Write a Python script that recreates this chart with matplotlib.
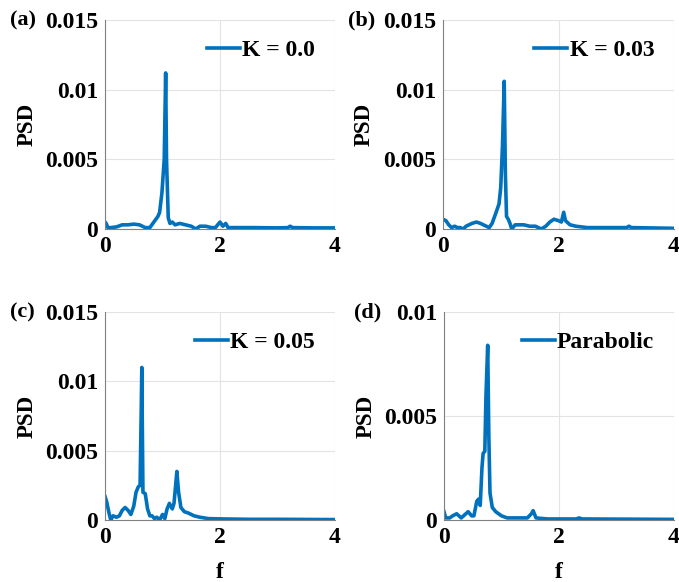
import matplotlib
matplotlib.use("Agg")
from matplotlib import pyplot as plt

plt.rcParams['font.family'] = ['Liberation Serif', 'DejaVu Serif']
plt.rcParams['font.weight'] = 'bold'

# panel (a) K = 0.0
f_a = [0, 0.02, 0.05, 0.1, 0.2, 0.3, 0.4, 0.5, 0.6, 0.7, 0.78, 0.85, 0.92, 0.95,
       0.99, 1.03, 1.055, 1.07, 1.1, 1.13, 1.17, 1.22, 1.3, 1.4, 1.5, 1.58, 1.65,
       1.75, 1.85, 1.92, 2.0, 2.05, 2.1, 2.14, 2.3, 2.6, 3.0, 3.18, 3.22, 3.26, 3.6, 4.0]
psd_a = [0.0005, 0.0004, 0.0001, 0.0001, 0.00015, 0.0003, 0.0003, 0.00035, 0.0003,
         0.0001, 0.0001, 0.0005, 0.0009, 0.0012, 0.0026, 0.005, 0.0112, 0.005, 0.0008,
         0.0004, 0.0005, 0.0003, 0.0004, 0.0003, 0.0002, 0.0, 0.0002, 0.0002, 0.0001,
         0.0001, 0.0005, 0.0002, 0.0004, 0.0001, 0.0001, 0.0001, 0.00008, 0.0001,
         0.0002, 0.0001, 0.00008, 0.00008]

# panel (b) K = 0.03
f_b = [0, 0.05, 0.1, 0.15, 0.2, 0.25, 0.3, 0.35, 0.4, 0.5, 0.58, 0.65, 0.75, 0.8,
       0.85, 0.92, 0.97, 1.0, 1.03, 1.06, 1.08, 1.1, 1.13, 1.16, 1.19, 1.25, 1.3,
       1.4, 1.5, 1.6, 1.7, 1.78, 1.85, 1.92, 2.0, 2.05, 2.09, 2.12, 2.2, 2.3, 2.5,
       3.0, 3.18, 3.22, 3.26, 4.0]
psd_b = [0.0007, 0.0006, 0.0003, 0.0001, 0.0002, 0.0001, 0.0001, 0.0, 0.0002,
         0.0004, 0.0005, 0.0004, 0.0002, 0.0001, 0.0004, 0.0012, 0.0018, 0.003,
         0.006, 0.0106, 0.004, 0.0009, 0.0007, 0.0004, 0.0, 0.0003, 0.0003, 0.0003,
         0.0002, 0.0002, 0.0, 0.0002, 0.0005, 0.0007, 0.0006, 0.0005, 0.0012, 0.0006,
         0.0003, 0.0002, 0.0001, 0.0001, 0.0001, 0.0002, 0.0001, 0.00005]

# panel (c) K = 0.05
f_c = [0, 0.03, 0.07, 0.1, 0.14, 0.2, 0.25, 0.3, 0.35, 0.4, 0.45, 0.5, 0.54, 0.58,
       0.61, 0.63, 0.64, 0.66, 0.7, 0.74, 0.78, 0.82, 0.86, 0.9, 0.95, 1.0, 1.04,
       1.08, 1.12, 1.17, 1.2, 1.25, 1.28, 1.32, 1.38, 1.45, 1.55, 1.65, 1.8, 2.0,
       2.5, 3.0, 4.0]
psd_c = [0.0017, 0.0013, 0.0005, 0.0, 0.0003, 0.0002, 0.0003, 0.0007, 0.0009,
         0.0007, 0.0004, 0.001, 0.002, 0.0024, 0.0025, 0.0079, 0.011, 0.002, 0.0019,
         0.0008, 0.0003, 0.0003, 0.0001, 0.0002, 0.0, 0.0004, 0.0001, 0.0008, 0.0012,
         0.0008, 0.0012, 0.0035, 0.002, 0.0009, 0.0006, 0.0005, 0.0003, 0.0002,
         0.0001, 0.00008, 0.00005, 0.00005, 0.00003]

# panel (d) parabolic
f_d = [0, 0.03, 0.1, 0.15, 0.22, 0.3, 0.38, 0.42, 0.48, 0.52, 0.57, 0.6, 0.63,
       0.66, 0.68, 0.71, 0.73, 0.76, 0.78, 0.8, 0.84, 0.9, 1.0, 1.1, 1.3, 1.45,
       1.52, 1.55, 1.6, 1.8, 2.3, 2.35, 2.4, 4.0]
psd_d = [0.0004, 0.0001, 0.0001, 0.0002, 0.0003, 0.0001, 0.0003, 0.0004, 0.0002,
         0.0002, 0.0009, 0.001, 0.0007, 0.0025, 0.0032, 0.0033, 0.006, 0.0084,
         0.004, 0.0013, 0.0006, 0.0004, 0.0002, 0.0001, 0.0001, 0.0001, 0.0003,
         0.00045, 0.0001, 0.00005, 0.00005, 0.0001, 0.00005, 0.00003]

labels = ['K = 0.0', 'K = 0.03', 'K = 0.05', 'Parabolic']
tags = ['(a)', '(b)', '(c)', '(d)']
yticks = [[0, 0.005, 0.01, 0.015]] * 3 + [[0, 0.005, 0.01]]
ytick_labels = [['0', '0.005', '0.01', '0.015']] * 3 + [['0', '0.005', '0.01']]
data = [(f_a, psd_a), (f_b, psd_b), (f_c, psd_c), (f_d, psd_d)]

W, H = 679, 582
# axes boxes in pixels: left, top, right, bottom
boxes = [(105, 20, 335, 229), (443, 20, 674, 229),
         (105, 312, 335, 520), (444, 312, 674, 520)]
tag_x = [10, 348, 10, 354]

fig = plt.figure(figsize=(W / 100, H / 100), dpi=100)
blue = '#0072BD'

for i in range(4):
    l, t, r, b = boxes[i]
    ax = fig.add_axes([l / W, 1 - b / H, (r - l) / W, (b - t) / H])
    f, p = data[i]
    ax.plot(f, p, color=blue, lw=2.6, label=labels[i])
    ax.set_xlim(0, 4)
    ax.set_ylim(yticks[i][0], yticks[i][-1])
    ax.set_xticks([0, 2, 4])
    ax.set_yticks(yticks[i])
    ax.set_yticklabels(ytick_labels[i])
    ax.tick_params(labelsize=17, length=0, pad=5)
    ax.grid(True, color='#e3e3e3', lw=0.8)
    ax.set_axisbelow(True)
    for s in ['top', 'right']:
        ax.spines[s].set_visible(False)
    for s in ['left', 'bottom']:
        ax.spines[s].set_color('#808080')
        ax.spines[s].set_linewidth(0.8)
    ax.set_ylabel('PSD', fontsize=16.5, fontweight='bold', va='center')
    ax.yaxis.set_label_coords(-0.34, 0.5)
    if i >= 2:
        ax.set_xlabel('f', fontsize=17, fontweight='bold')
        ax.xaxis.set_label_coords(0.5, -0.2)
    ax.legend(loc='upper right', frameon=False, fontsize=17, handlelength=1.4,
              handletextpad=0.1, borderaxespad=0.0, bbox_to_anchor=(0.955, 0.95))
    fig.text(tag_x[i] / W, 1 - t / H, tags[i], fontsize=16, fontweight='bold',
             va='center', ha='left')

fig.savefig('out.png', dpi=100)
